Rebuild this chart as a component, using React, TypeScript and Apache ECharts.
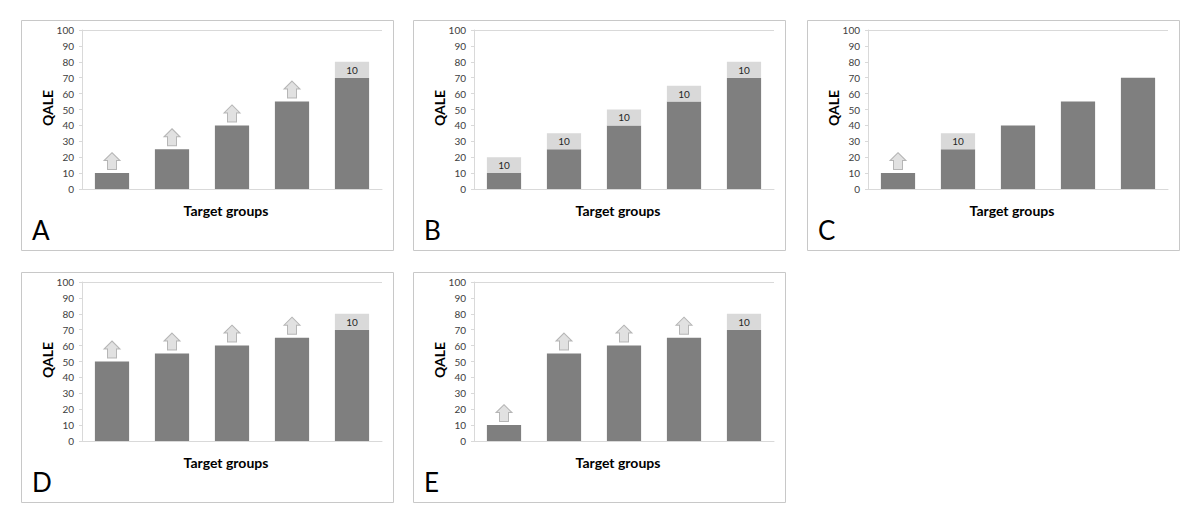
import React, { useEffect, useRef } from "react";
import * as echarts from "echarts";

const categories = ["Group 1", "Group 2", "Group 3", "Group 4", "Group 5"];
const panelLetters = ["A", "B", "C", "D", "E"];
const yTicks = [0, 100, 10]; // min, max, interval

// dark bars (current QALE)
const baseA = [10, 25, 40, 55, 70];
const baseB = [10, 25, 40, 55, 70];
const baseC = [10, 25, 40, 55, 70];
const baseD = [50, 55, 60, 65, 70];
const baseE = [10, 55, 60, 65, 70];

// light grey increments labelled "10"
const incA = [null, null, null, null, 10];
const incB = [10, 10, 10, 10, 10];
const incC = [null, 10, null, null, null];
const incD = [null, null, null, null, 10];
const incE = [null, null, null, null, 10];

// arrows drawn above these bar values
const arrowA = [10, 25, 40, 55, null];
const arrowB = [null, null, null, null, null];
const arrowC = [10, null, null, null, null];
const arrowD = [50, 55, 60, 65, null];
const arrowE = [10, 55, 60, 65, null];

const bases = [baseA, baseB, baseC, baseD, baseE];
const incs = [incA, incB, incC, incD, incE];
const arrows = [arrowA, arrowB, arrowC, arrowD, arrowE];

const yTitle = "QALE";
const xTitle = "Target groups";

const FONT = "Lato, 'Open Sans', sans-serif";
const DARK = "#7f7f7f";
const LIGHT = "#d9d9d9";
const AXIS = "#d9d9d9";

const boxes = [
  { x: 21, y: 20 },
  { x: 413, y: 20 },
  { x: 807, y: 20 },
  { x: 21, y: 272 },
  { x: 413, y: 272 },
];
const BOX_W = 372;
const BOX_H = 230;

const ARROW_PATH = "path://M8,0 L16,8 L12.5,8 L12.5,17 L3.5,17 L3.5,8 L0,8 Z";

export default function App() {
  const ref = useRef<HTMLDivElement>(null);
  useEffect(() => {
    if (!ref.current) return;
    const chart = echarts.init(ref.current, null, { renderer: "svg" });
    const grid: any[] = [];
    const xAxis: any[] = [];
    const yAxis: any[] = [];
    const series: any[] = [];
    const graphic: any[] = [];
    boxes.forEach((b, i) => {
      grid.push({ left: b.x + 61, top: b.y + 10, width: 300, height: 159 });
      xAxis.push({
        gridIndex: i,
        type: "category",
        data: categories,
        axisLabel: { show: false },
        axisTick: { show: false },
        axisLine: { lineStyle: { color: AXIS, width: 1 } },
      });
      const splitColors = [] as string[];
      for (let k = 0; k < 10; k++) splitColors.push("rgba(0,0,0,0)");
      splitColors.push(AXIS);
      yAxis.push({
        gridIndex: i,
        type: "value",
        min: yTicks[0],
        max: yTicks[1],
        interval: yTicks[2],
        axisLine: { show: true, lineStyle: { color: AXIS } },
        axisTick: { show: true, length: 3, lineStyle: { color: AXIS } },
        axisLabel: { fontSize: 10, color: "#404040", fontFamily: FONT, margin: 8 },
        splitLine: { show: true, lineStyle: { color: splitColors, width: 1 } },
      });
      series.push({
        type: "bar",
        xAxisIndex: i,
        yAxisIndex: i,
        stack: "s" + i,
        barWidth: "57%",
        data: bases[i],
        itemStyle: { color: DARK },
      });
      series.push({
        type: "bar",
        xAxisIndex: i,
        yAxisIndex: i,
        stack: "s" + i,
        barWidth: "57%",
        data: incs[i],
        itemStyle: { color: LIGHT },
        label: {
          show: true,
          position: "inside",
          formatter: (p: any) => String(p.value),
          fontSize: 10,
          color: "#262626",
          fontFamily: FONT,
        },
      });
      series.push({
        type: "scatter",
        xAxisIndex: i,
        yAxisIndex: i,
        data: arrows[i],
        symbol: ARROW_PATH,
        symbolKeepAspect: false,
        symbolSize: [16, 17],
        symbolOffset: [0, -12],
        itemStyle: { color: LIGHT, borderColor: "#a6a6a6", borderWidth: 1 },
        z: 5,
      });
      graphic.push({
        type: "rect",
        shape: { x: b.x + 0.5, y: b.y + 0.5, width: BOX_W, height: BOX_H },
        style: { fill: "none", stroke: "#c8c8c8", lineWidth: 1 },
        silent: true,
      });
      graphic.push({
        type: "text",
        x: b.x + 26,
        y: b.y + 88,
        rotation: Math.PI / 2,
        style: {
          text: yTitle,
          font: `bold 14px ${FONT}`,
          fill: "#000",
          align: "center",
          verticalAlign: "middle",
        },
      });
      graphic.push({
        type: "text",
        x: b.x + 205,
        y: b.y + 190,
        style: {
          text: xTitle,
          font: `bold 14px ${FONT}`,
          fill: "#000",
          align: "center",
          verticalAlign: "middle",
        },
      });
      graphic.push({
        type: "text",
        x: b.x + 11,
        y: b.y + 210,
        style: {
          text: panelLetters[i],
          font: `26px ${FONT}`,
          fill: "#000",
          align: "left",
          verticalAlign: "middle",
        },
      });
    });
    chart.setOption({
      animation: false,
      backgroundColor: "#fff",
      grid,
      xAxis,
      yAxis,
      series,
      graphic,
    });
    return () => chart.dispose();
  }, []);
  return (
    <div
      ref={ref}
      style={{ position: "fixed", left: 0, top: 0, width: 1200, height: 522 }}
    />
  );
}
